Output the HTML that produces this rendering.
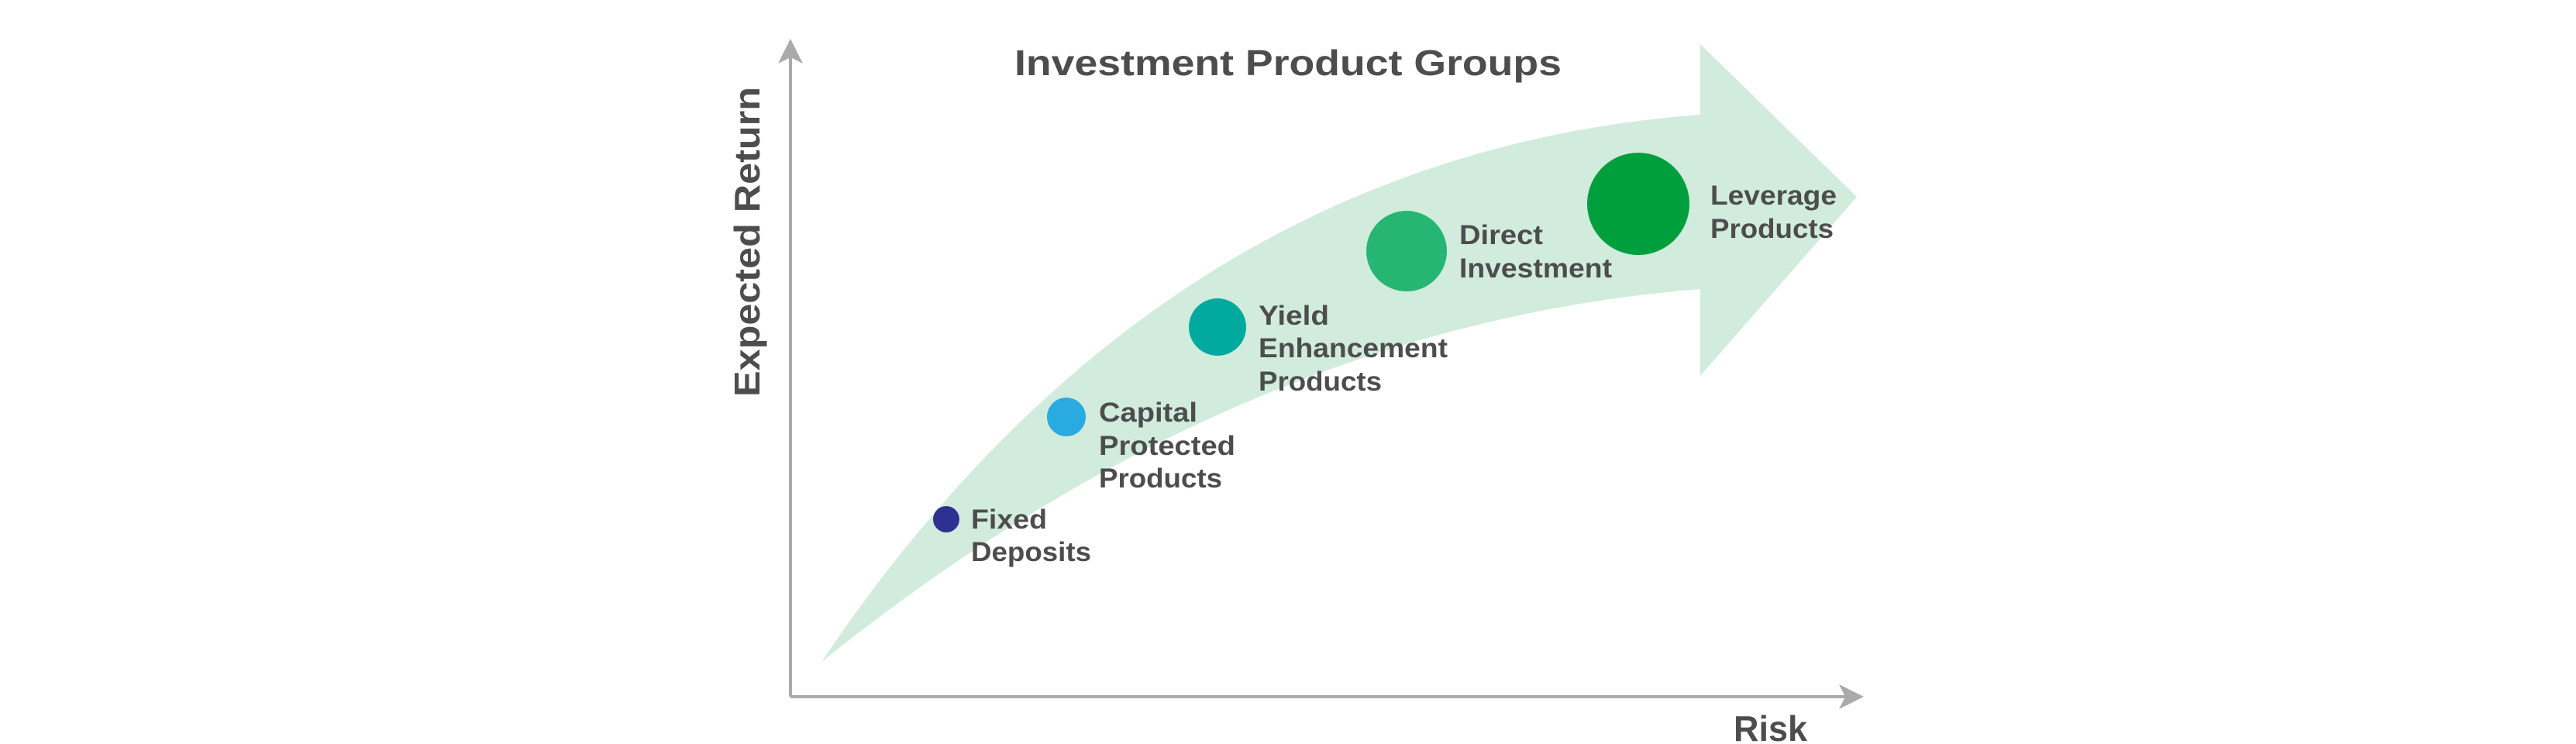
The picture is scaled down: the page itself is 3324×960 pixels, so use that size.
<!DOCTYPE html>
<html><head><meta charset="utf-8"><style>html,body{margin:0;padding:0;background:#fff}svg{display:block}</style></head>
<body>
<svg width="3324" height="960" viewBox="0 0 3324 960" xmlns="http://www.w3.org/2000/svg" font-family="Liberation Sans, sans-serif" font-weight="bold">
<path d="M1060,854 Q1500,200 2194,148 L2194,57 L2396,254 L2194,485 L2194,373 Q1600,420 1060,854 Z" fill="#d1ecdc"/>
<g stroke="#aaaaaa" stroke-width="4" fill="none">
<line x1="1020" y1="70" x2="1020" y2="899"/>
<line x1="1020" y1="899" x2="2385" y2="899"/>
</g>
<polygon points="1020,50 1004,82 1020,74 1036,82" fill="#aaaaaa"/>
<polygon points="2405,899 2373,883 2381,899 2373,915" fill="#aaaaaa"/>
<text x="1662" y="97" font-size="46" fill="#4d4d4d" text-anchor="middle" textLength="706" lengthAdjust="spacingAndGlyphs">Investment Product Groups</text>
<text transform="translate(980,312) rotate(-90)" font-size="46" fill="#4d4d4d" text-anchor="middle" textLength="400" lengthAdjust="spacingAndGlyphs">Expected Return</text>
<text x="2237" y="956" font-size="46" fill="#4d4d4d" textLength="95" lengthAdjust="spacingAndGlyphs">Risk</text>
<circle cx="1221" cy="670" r="17" fill="#2e3192"/>
<circle cx="1376" cy="538" r="25" fill="#29abe2"/>
<circle cx="1571" cy="422" r="37" fill="#00a99d"/>
<circle cx="1815" cy="324" r="52" fill="#26b573"/>
<circle cx="2114" cy="263" r="66" fill="#009f3e"/>
<g font-size="35" fill="#4d4d4d" lengthAdjust="spacingAndGlyphs">
<text x="1253" y="682" textLength="98" lengthAdjust="spacingAndGlyphs">Fixed</text>
<text x="1253" y="724" textLength="155" lengthAdjust="spacingAndGlyphs">Deposits</text>
<text x="1418" y="544" textLength="127" lengthAdjust="spacingAndGlyphs">Capital</text>
<text x="1418" y="587" textLength="176" lengthAdjust="spacingAndGlyphs">Protected</text>
<text x="1418" y="629" textLength="159" lengthAdjust="spacingAndGlyphs">Products</text>
<text x="1624" y="419" textLength="91" lengthAdjust="spacingAndGlyphs">Yield</text>
<text x="1624" y="461" textLength="244" lengthAdjust="spacingAndGlyphs">Enhancement</text>
<text x="1624" y="504" textLength="159" lengthAdjust="spacingAndGlyphs">Products</text>
<text x="1883" y="315" textLength="108" lengthAdjust="spacingAndGlyphs">Direct</text>
<text x="1883" y="358" textLength="197" lengthAdjust="spacingAndGlyphs">Investment</text>
<text x="2207" y="264" textLength="163" lengthAdjust="spacingAndGlyphs">Leverage</text>
<text x="2207" y="307" textLength="159" lengthAdjust="spacingAndGlyphs">Products</text>
</g>
</svg>
</body></html>
